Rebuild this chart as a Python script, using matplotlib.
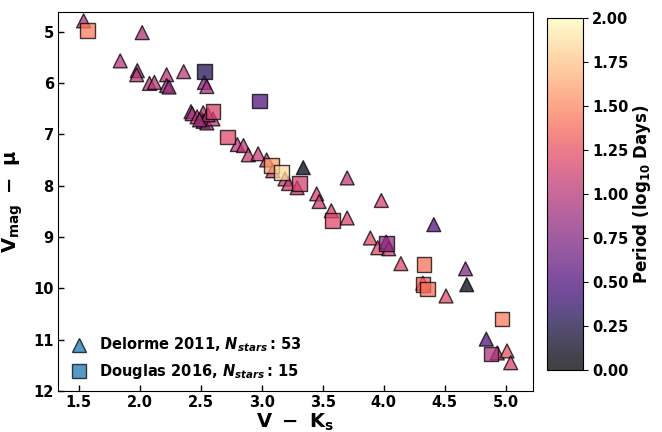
import matplotlib
matplotlib.use("Agg")
import matplotlib.pyplot as plt
from matplotlib.lines import Line2D
import numpy as np

plt.rcParams['font.family'] = 'DejaVu Sans'
plt.rcParams['font.weight'] = 'bold'
plt.rcParams['mathtext.fontset'] = 'custom'
plt.rcParams['mathtext.rm'] = 'DejaVu Sans:bold'
plt.rcParams['mathtext.bf'] = 'DejaVu Sans:bold'
plt.rcParams['mathtext.it'] = 'DejaVu Sans:bold:italic'

# Delorme 2011 (triangles)
del_vk = [1.54, 2.02, 1.84, 1.98, 1.975, 2.08, 2.12, 2.22, 2.22, 2.24, 2.36, 2.53, 2.55,
          2.42, 2.43, 2.47, 2.51, 2.52, 2.52, 2.55, 2.60, 2.56, 2.49,
          2.80, 2.85, 2.89, 2.97, 3.04, 3.34, 3.09, 3.19, 3.22, 3.29, 3.70, 3.45, 3.47,
          3.57, 3.70, 3.98, 3.89, 3.95, 4.02, 4.04, 4.41, 4.14, 4.32, 4.51, 4.67, 4.68,
          4.84, 4.93, 5.01, 5.04]
del_mag = [4.79, 5.02, 5.57, 5.76, 5.84, 6.01, 5.99, 5.84, 6.05, 6.08, 5.78, 5.99, 6.07,
           6.56, 6.60, 6.66, 6.70, 6.58, 6.75, 6.78, 6.70, 6.62, 6.72,
           7.20, 7.22, 7.40, 7.38, 7.50, 7.65, 7.71, 7.87, 7.96, 8.04, 7.85, 8.16, 8.31,
           8.49, 8.63, 8.29, 9.02, 9.21, 9.10, 9.23, 8.76, 9.52, 9.90, 10.15, 9.62, 9.93,
           10.99, 11.26, 11.22, 11.45]
del_per = [0.95, 0.95, 1.00, 0.90, 1.00, 1.00, 1.00, 1.00, 0.85, 0.90, 1.05, 0.75, 0.95,
           0.85, 0.95, 1.00, 0.85, 1.00, 0.85, 0.90, 1.05, 1.00, 0.95,
           1.05, 1.05, 1.10, 1.10, 1.10, 0.10, 1.10, 1.10, 1.10, 1.10, 1.05, 1.15, 1.10,
           1.15, 1.15, 1.15, 1.20, 1.20, 0.60, 1.10, 0.50, 1.20, 1.30, 1.20, 0.75, 0.10,
           0.50, 1.05, 1.25, 1.15]

# Douglas 2016 (squares)
dou_vk = [1.57, 2.53, 2.98, 2.60, 2.72, 3.08, 3.16, 3.31, 3.58, 4.02, 4.33, 4.32, 4.36, 4.97, 4.88]
dou_mag = [4.98, 5.78, 6.35, 6.56, 7.05, 7.61, 7.75, 7.96, 8.68, 9.13, 9.54, 9.93, 10.01, 10.60, 11.28]
dou_per = [1.45, 0.30, 0.50, 1.15, 1.20, 1.60, 1.85, 1.15, 1.20, 0.85, 1.40, 1.35, 1.40, 1.45, 0.95]

fig = plt.figure(figsize=(6.62, 4.32), dpi=100)
ax = fig.add_axes([0.0876, 0.095, 0.717, 0.877])
cax = fig.add_axes([0.826, 0.1435, 0.054, 0.815])

sc = ax.scatter(del_vk, del_mag, c=del_per, cmap='magma', vmin=0, vmax=2, marker='^',
                s=100, edgecolors='black', linewidths=1, alpha=0.75)
ax.scatter(dou_vk, dou_mag, c=dou_per, cmap='magma', vmin=0, vmax=2, marker='s',
           s=110, edgecolors='black', linewidths=1, alpha=0.75)

ax.set_xlim(1.33, 5.22)
ax.set_ylim(12, 4.62)
ax.set_xticks([1.5, 2.0, 2.5, 3.0, 3.5, 4.0, 4.5, 5.0])
ax.set_yticks([5, 6, 7, 8, 9, 10, 11, 12])
ax.tick_params(direction='in', labelsize=10.5, width=1, length=4, pad=3)
for lbl in ax.get_xticklabels() + ax.get_yticklabels():
    lbl.set_fontweight('bold')
ax.set_xlabel(r'$\mathrm{V\ -\ K_s}$', fontsize=14, labelpad=1)
ax.set_ylabel(r'$\mathrm{V_{mag}\ -\ \mu}$', fontsize=14, labelpad=6)

handles = [
    Line2D([], [], linestyle='none', marker='^', markersize=10, markerfacecolor='#1f77b4',
           markeredgecolor='black', alpha=0.75),
    Line2D([], [], linestyle='none', marker='s', markersize=10, markerfacecolor='#1f77b4',
           markeredgecolor='black', alpha=0.75),
]
labels = [r'Delorme 2011, $N_{stars}\,$: 53', r'Douglas 2016, $N_{stars}\,$: 15']
leg = ax.legend(handles, labels, loc='lower left', frameon=False, fontsize=10.5,
                handletextpad=0.6, borderaxespad=0.3, labelspacing=0.5, handlelength=1.5)

cb = fig.colorbar(sc, cax=cax)
ticks = [0, 0.25, 0.5, 0.75, 1.0, 1.25, 1.5, 1.75, 2.0]
cb.set_ticks(ticks)
cb.ax.set_yticklabels(['%.2f' % v for v in ticks], fontweight='bold', fontsize=10.5)
cb.set_label(r'Period (log$_{10}$ Days)', fontsize=12, fontweight='bold', labelpad=2)

fig.savefig('out.png', dpi=100)
